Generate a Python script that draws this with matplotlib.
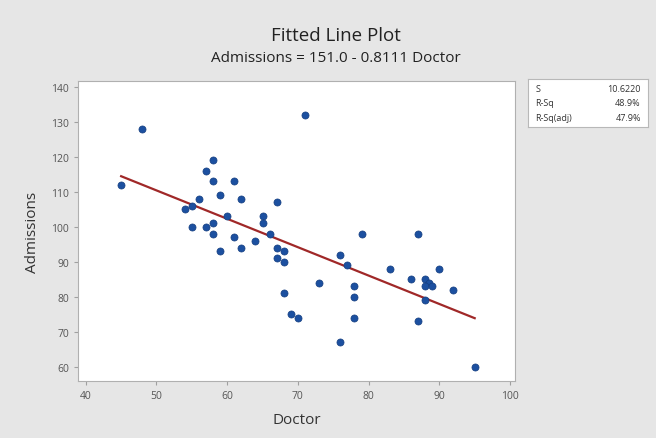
import matplotlib
matplotlib.use("Agg")
import matplotlib.pyplot as plt
import numpy as np

doctor = [45, 48, 54, 55, 55, 56, 57, 57, 58, 58, 58, 58, 59, 59, 60, 61, 61, 62, 62,
          64, 65, 65, 66, 67, 67, 68, 67, 68, 68, 69, 70, 71, 73, 76, 77, 76, 78, 78,
          78, 79, 83, 86, 87, 87, 88, 88.6, 88, 89, 88, 90, 92, 95]
admissions = [112, 128, 105, 106, 100, 108, 116, 100, 119, 113, 101, 98, 109, 93, 103,
              113, 97, 108, 94, 96, 103, 101, 98, 107, 94, 93, 91, 90, 81, 75, 74, 132,
              84, 92, 89, 67, 83, 80, 74, 98, 88, 85, 98, 73, 85, 84, 83, 83, 79, 88,
              82, 60]
intercept = 151.0
slope = -0.8111
stat_labels = ["S", "R-Sq", "R-Sq(adj)"]
stat_values = ["10.6220", "48.9%", "47.9%"]
x_ticks = [40, 50, 60, 70, 80, 90, 100]
y_ticks = [60, 70, 80, 90, 100, 110, 120, 130, 140]

plt.rcParams['font.family'] = ['Open Sans', 'DejaVu Sans']

fig = plt.figure(figsize=(6.56, 4.39), dpi=100)
fig.patch.set_facecolor('#e6e6e6')

ax = fig.add_axes([78/656, 1 - 382/439, (515-78)/656, (382-82)/439])
ax.set_facecolor('white')
ax.scatter(doctor, admissions, s=26, color='#1c50a0', edgecolors='#163f80',
           linewidths=0.5, zorder=3)
xs = np.array([min(doctor), max(doctor)])
ax.plot(xs, intercept + slope * xs, color='#a02828', lw=1.6, zorder=2)

ax.set_xlim(38.9, 100.7)
ax.set_ylim(56, 141.7)
ax.set_xticks(x_ticks)
ax.set_yticks(y_ticks)
for s in ax.spines.values():
    s.set_color('#b0b0b0')
    s.set_linewidth(0.8)
ax.tick_params(axis='both', colors='#a0a0a0', labelcolor='#555555', labelsize=7.5,
               length=3, width=0.8)
ax.set_xlabel('Doctor', fontsize=11, color='#333333', labelpad=8)
ax.set_ylabel('Admissions', fontsize=11, color='#333333', labelpad=8)

fig.text(336/656, 1 - 36/439, 'Fitted Line Plot', ha='center',
         va='center', fontsize=13.5, color='#222222')
fig.text(336/656, 1 - 59/439, 'Admissions = 151.0 - 0.8111 Doctor',
         ha='center', va='center', fontsize=11, color='#222222')

bax = fig.add_axes([528/656, 1 - 128/439, (648-528)/656, (128-80)/439])
bax.set_facecolor('white')
bax.set_xticks([])
bax.set_yticks([])
for s in bax.spines.values():
    s.set_color('#b8b8b8')
    s.set_linewidth(0.8)
for i, (lab, val) in enumerate(zip(stat_labels, stat_values)):
    yy = 0.8 - i * 0.3
    bax.text(0.06, yy, lab, transform=bax.transAxes, ha='left', va='center',
             fontsize=6.5, color='#333333')
    bax.text(0.94, yy, val, transform=bax.transAxes, ha='right', va='center',
             fontsize=6.5, color='#333333')

fig.savefig('out.png', dpi=100, facecolor=fig.get_facecolor())
